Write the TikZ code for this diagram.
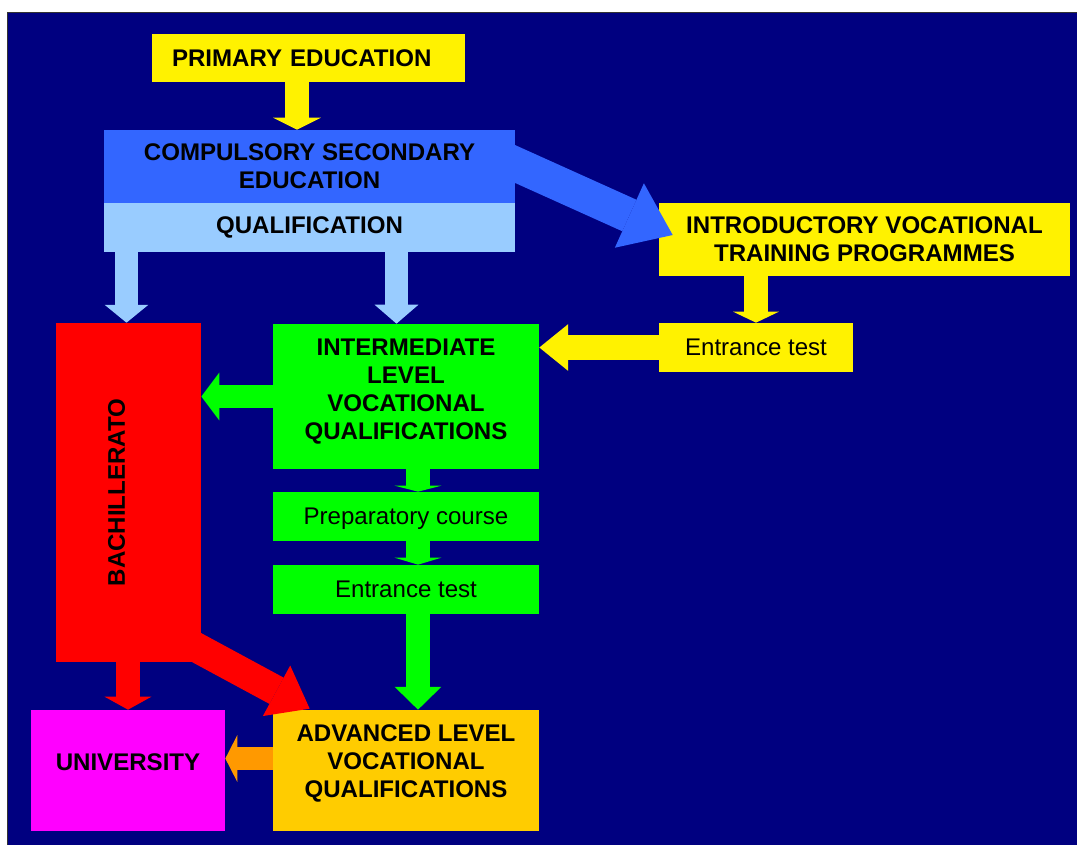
\documentclass[tikz,border=0pt]{standalone}
\usepackage{fontspec}
\setmainfont{Liberation Sans}
\usetikzlibrary{arrows.meta,calc}

\definecolor{navy}{HTML}{000080}
\definecolor{cseblue}{HTML}{3366FF}
\definecolor{qualblue}{HTML}{99CCFF}
\definecolor{vgreen}{HTML}{00FF00}
\definecolor{advgold}{HTML}{FFCC00}
\definecolor{arrorange}{HTML}{FF9900}
\definecolor{univpink}{HTML}{FF00FF}

\newcommand{\boxfont}{\fontsize{13.7}{15.9}\selectfont}

\tikzset{
  box/.style={rectangle, inner sep=0pt, align=center, font=\boxfont\bfseries},
  plain/.style={rectangle, inner sep=0pt, align=center, text depth=0pt, font=\boxfont},
  fat/.style n args={4}{draw=#1, line width=#2,
    -{Triangle[width=#3, length=#4, line width=0pt]}},
}

\begin{document}
\begin{tikzpicture}[x=0.02cm, y=-0.02cm]
\useasboundingbox (0,0) rectangle (1077,845);
\fill[white] (0,0) rectangle (1077,845);
\fill[navy] (8,13) rectangle (1077,845);
\draw[black!80, line width=0.6pt] (7.5,845) -- (7.5,12.5) -- (1077,12.5);

%% Boxes
\node[box, fill=yellow, minimum width=6.26cm, minimum height=0.96cm,
  text width=5.46cm, align=left] (prim) at (308.5,58) {PRIMARY EDUCATION};
\node[box, fill=cseblue, minimum width=8.22cm, minimum height=1.46cm]
  (cse) at (309.5,166.5) {COMPULSORY SECONDARY\\EDUCATION};
\node[box, fill=qualblue, minimum width=8.22cm, minimum height=0.98cm]
  (qual) at (309.5,227.5) {QUALIFICATION};
\node[box, fill=yellow, minimum width=8.22cm, minimum height=1.46cm]
  (intro) at (864.5,239.5) {INTRODUCTORY VOCATIONAL\\TRAINING PROGRAMMES};
\node[plain, fill=yellow, minimum width=3.88cm, minimum height=0.98cm]
  (entry) at (756,347.5) {Entrance test};

\node[box, fill=red, minimum width=2.90cm, minimum height=6.78cm]
  (bach) at (128.5,492.5) {};
\node[box, rotate=90] (bachtext) at (116.5,492.5) {BACHILLERATO};

\node[box, fill=vgreen, minimum width=5.32cm, minimum height=2.90cm]
  (inter) at (406,396.5) {};
\node[box] (intertext) at (406,391.5)
  {INTERMEDIATE\\LEVEL\\VOCATIONAL\\QUALIFICATIONS};
\node[plain, fill=vgreen, minimum width=5.32cm, minimum height=0.98cm]
  (prep) at (406,516.5) {Preparatory course};
\node[plain, fill=vgreen, minimum width=5.32cm, minimum height=0.98cm]
  (test) at (406,589.5) {Entrance test};

\node[box, fill=advgold, minimum width=5.32cm, minimum height=2.42cm]
  (adv) at (406,770.5) {};
\node[box] (advtext) at (406,763.5) {ADVANCED LEVEL\\VOCATIONAL\\QUALIFICATIONS};
\node[box, fill=univpink, minimum width=3.88cm, minimum height=2.42cm]
  (univ) at (128,770.5) {};
\node[box] (univtext) at (128,762) {UNIVERSITY};

%% Arrows
\draw[fat={yellow}{13.6pt}{27.2pt}{6.8pt}] (297,0 |- prim.south) -- (297,0 |- cse.north);
\draw[fat={cseblue}{19.67pt}{40.25pt}{27.04pt}]
  ($(cse.east)+(-18,-10.5)$) -- ($(intro.west)+(14,-4.5)$);
\draw[fat={qualblue}{13.04pt}{24.94pt}{10.2pt}] (126.5,0 |- qual.south) -- (126.5,0 |- bach.north);
\draw[fat={qualblue}{13.04pt}{24.94pt}{10.77pt}] (396.5,0 |- qual.south) -- (396.5,0 |- inter.north);
\draw[fat={yellow}{14.17pt}{26.08pt}{6.24pt}] (entry.north |- intro.south) -- (entry.north);
\draw[fat={yellow}{14.17pt}{26.64pt}{16.44pt}] (entry.west) -- (inter.east |- entry.west);
\draw[fat={vgreen}{13.6pt}{27.2pt}{10.2pt}] (inter.west) -- (bach.east |- inter.west);
\draw[fat={vgreen}{13.6pt}{26.64pt}{3.4pt}] (418,0 |- inter.south) -- (418,0 |- prep.north);
\draw[fat={vgreen}{13.6pt}{26.64pt}{3.97pt}] (418,0 |- prep.south) -- (418,0 |- test.north);
\draw[fat={vgreen}{13.6pt}{26.64pt}{13.04pt}] (418,0 |- test.south) -- (418,0 |- adv.north);
\draw[fat={red}{13.6pt}{26.64pt}{7.37pt}] (univ.north |- bach.south) -- (univ.north);
\draw[fat={red}{17pt}{32.7pt}{21.43pt}]
  ($(bach.south east)+(-20,-23)$) -- ($(adv.north west)+(37,-1)$);
\draw[fat={arrorange}{13.04pt}{26.64pt}{6.8pt}] (adv.west |- 0,758.5) -- (univ.east |- 0,758.5);

\end{tikzpicture}
\end{document}
